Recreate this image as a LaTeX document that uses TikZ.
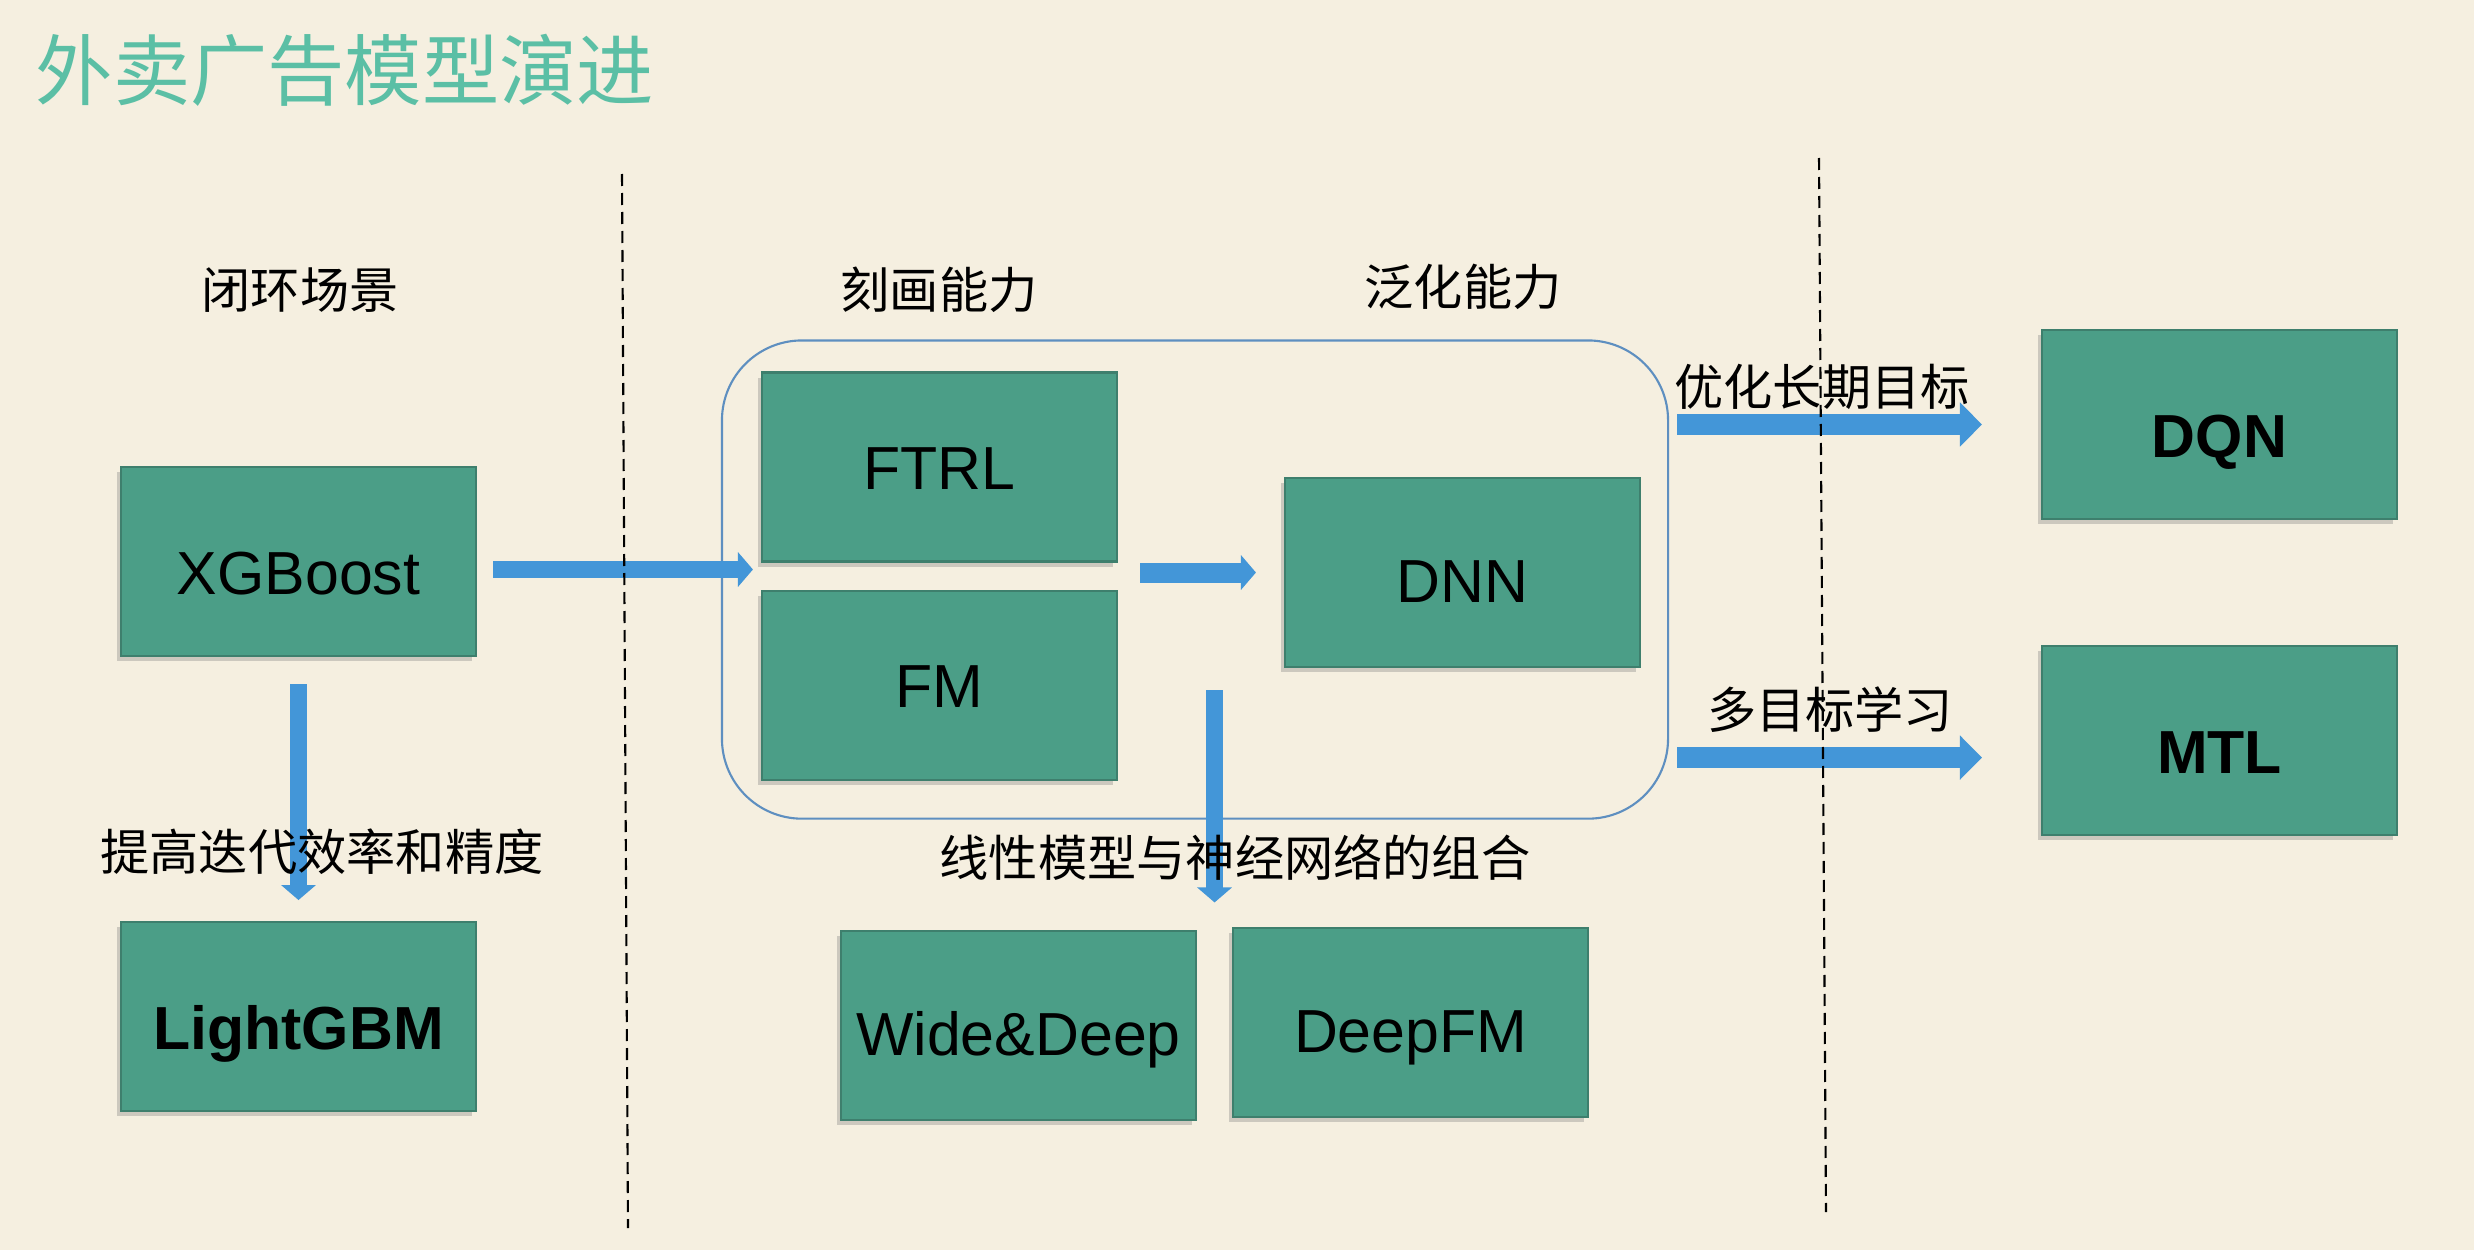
\documentclass[tikz,border=0pt]{standalone}
\usepackage{fontspec}
\setmainfont{Liberation Sans}
\newfontfamily\cjk{Noto Sans CJK SC}
\usetikzlibrary{arrows.meta,positioning,calc,fit,shadows}

\definecolor{paper}{HTML}{F5EFE0}
\definecolor{boxgreen}{HTML}{4B9E87}
\definecolor{boxedge}{HTML}{3E7F6D}
\definecolor{flowblue}{HTML}{4396D8}
\definecolor{framebl}{HTML}{5E8FC0}
\definecolor{titleteal}{HTML}{5BBFA5}

\begin{document}
\begin{tikzpicture}[
    mdl/.style={draw=boxedge, fill=boxgreen, line width=0.6pt,
                minimum width=3.55cm, minimum height=1.89cm, inner sep=0pt,
                text height=0.66cm, text depth=0pt,
                font=\fontsize{17.3}{20}\selectfont,
                drop shadow={shadow xshift=-1.2pt, shadow yshift=-1.5pt, opacity=0.35}},
    mdlm/.style={mdl, text height=0.6cm},
    mdlc/.style={mdl, text height=0.44cm},
    mdlb/.style={mdl, font=\fontsize{17.3}{20}\selectfont\bfseries},
    lbl/.style={font=\cjk\fontsize{14}{16}\selectfont, inner sep=0pt},
    flow/.style={draw=flowblue, line width=0.17cm, -{Triangle[width=0.34cm,length=0.15cm]}},
    flowb/.style={draw=flowblue, line width=0.21cm, -{Triangle[width=0.43cm,length=0.22cm]}},
    grpbox/.style={draw=framebl, line width=0.6pt, rounded corners=0.8cm},
    sep/.style={draw=black, line width=0.6pt, dash pattern=on 0.12cm off 0.07cm}
  ]
    \useasboundingbox (0,0) rectangle (24.74,-12.5);
    \fill[paper] (0,0) rectangle (24.74,-12.5);

    % title and column heads
    \node[anchor=west, text=titleteal, font=\cjk\fontsize{22}{26}\selectfont, inner sep=0pt]
        (title) at (0.35,-0.70) {外卖广告模型演进};
    \node[lbl] (hd1) at (3.00,-2.90)  {闭环场景};
    \node[lbl] (hd2) at (9.39,-2.90)  {刻画能力};
    \node[lbl] (hd3) at (14.63,-2.87) {泛化能力};

    % models
    \node[mdl]                        (xgb)  at (2.985,-5.615)  {XGBoost};
    \node[mdlb, below=2.64cm of xgb]  (lgbm)                    {LightGBM};
    \node[mdlc]                       (ftrl) at (9.395,-4.67)   {FTRL};
    \node[mdlc, below=0.27cm of ftrl] (fm)                      {FM};
    \node[mdlm]                       (dnn)  at (14.625,-5.725) {DNN};
    \node[mdlm]                       (wd)   at (10.185,-10.255) {Wide\&Deep};
    \node[mdlm, right=0.35cm of wd, yshift=0.03cm] (dfm)        {DeepFM};
    \node[mdlb]                       (dqn)  at (22.195,-4.245) {DQN};
    \node[mdlb, below=1.25cm of dqn]  (mtl)                     {MTL};

    % group frame
    \coordinate (g1) at ($(ftrl.north west)+(-0.39,0.31)$);
    \coordinate (g2) at ($(dnn.east |- fm.south)+(0.27,-0.38)$);
    \node[grpbox, fit=(g1)(g2), inner sep=0pt] (grp) {};

    % arrows
    \draw[flow, shorten <=0.16cm, shorten >=0.08cm] ($(xgb.east)+(0,-0.08)$) -- ($(xgb.east -| ftrl.west)+(0,-0.08)$);
    \draw[flow, shorten <=0.27cm, shorten >=0.21cm] (xgb) -- (lgbm);
    \draw[flow, line width=0.2cm, shorten <=0.22cm, shorten >=0.28cm] (ftrl.east |- dnn.west) -- (dnn.west);
    \coordinate (mix) at ($(wd.north east)!0.5!(dfm.north west)$);
    \draw[flow, shorten <=0.05cm, shorten >=0.26cm] (fm.center -| mix) -- (mix);
    \draw[flowb, shorten <=0.08cm, shorten >=0.59cm] (grp.east |- dqn.west) -- (dqn.west);
    \draw[flowb, shorten <=0.08cm, shorten >=0.59cm] ($(grp.east |- mtl.west)+(0,-0.17)$) -- ($(mtl.west)+(0,-0.17)$);

    % arrow labels
    \node[lbl] (lxgb) at (3.22,-8.52)  {提高迭代效率和精度};
    \node[lbl] (lmix) at (12.35,-8.57) {线性模型与神经网络的组合};
    \node[lbl] (ldqn) at (18.22,-3.87) {优化长期目标};
    \node[lbl] (lmtl) at (18.30,-7.10) {多目标学习};

    % separators
    \draw[sep] (6.22,-1.74) -- (6.28,-12.28);
    \draw[sep] (18.19,-1.58) -- (18.26,-12.12);
  \end{tikzpicture}
\end{document}
